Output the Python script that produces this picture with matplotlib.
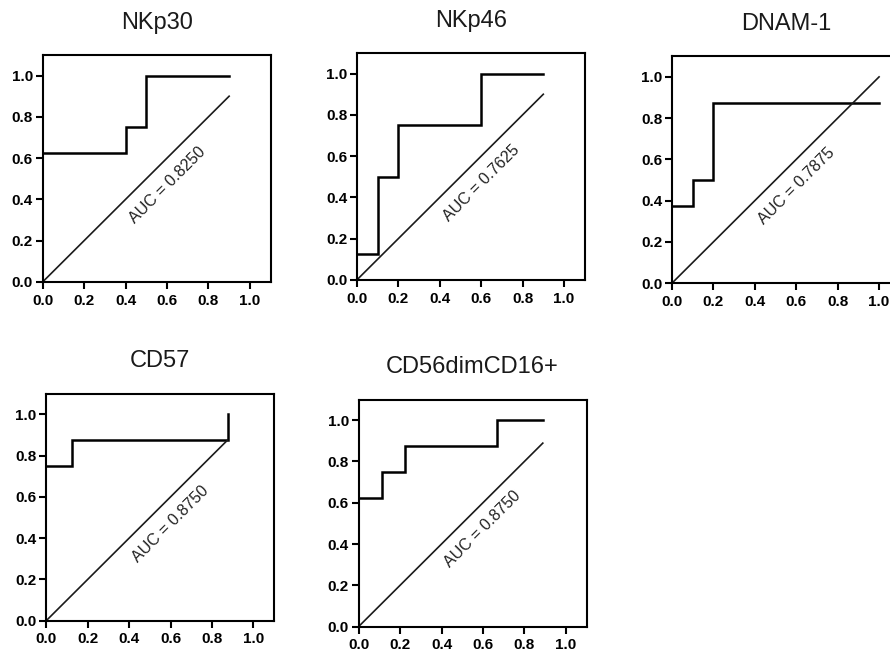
import matplotlib
matplotlib.use("Agg")
import matplotlib.pyplot as plt

plt.rcParams['font.family'] = ['Liberation Sans', 'DejaVu Sans']

# ROC curves (1 - specificity, sensitivity)
titles = ["NKp30", "NKp46", "DNAM-1", "CD57", "CD56dimCD16+"]
auc = ["0.8250", "0.7625", "0.7875", "0.8750", "0.8750"]

nkp30_x = [0.0, 0.4, 0.4, 0.5, 0.5, 0.9]
nkp30_y = [0.625, 0.625, 0.75, 0.75, 1.0, 1.0]

nkp46_x = [0.0, 0.1, 0.1, 0.2, 0.2, 0.6, 0.6, 0.9]
nkp46_y = [0.125, 0.125, 0.5, 0.5, 0.75, 0.75, 1.0, 1.0]

dnam_x = [0.0, 0.1, 0.1, 0.2, 0.2, 1.0]
dnam_y = [0.375, 0.375, 0.5, 0.5, 0.875, 0.875]

cd57_x = [0.0, 0.125, 0.125, 0.875, 0.875]
cd57_y = [0.75, 0.75, 0.875, 0.875, 1.0]

cd56_x = [0.0, 0.111, 0.111, 0.222, 0.222, 0.667, 0.667, 0.889]
cd56_y = [0.625, 0.625, 0.75, 0.75, 0.875, 0.875, 1.0, 1.0]

# end of the reference (diagonal) line
diag_end = [0.9, 0.9, 1.0, 0.875, 0.889]

curves = [(nkp30_x, nkp30_y), (nkp46_x, nkp46_y), (dnam_x, dnam_y),
          (cd57_x, cd57_y), (cd56_x, cd56_y)]

# axes boxes in figure fraction [left, bottom, width, height]
boxes = [[0.048, 0.569, 0.256, 0.347],
         [0.401, 0.572, 0.256, 0.347],
         [0.755, 0.567, 0.256, 0.347],
         [0.052, 0.051, 0.256, 0.347],
         [0.403, 0.042, 0.256, 0.347]]

ticks = [0.0, 0.2, 0.4, 0.6, 0.8, 1.0]

fig = plt.figure(figsize=(8.9, 6.54), dpi=100)

for i in range(5):
    ax = fig.add_axes(boxes[i])
    x, y = curves[i]
    ax.plot(x, y, color="black", lw=1.8, solid_joinstyle="miter", clip_on=False)
    d = diag_end[i]
    ax.plot([0, d], [0, d], color="#1a1a1a", lw=1.2, clip_on=False)
    ax.text(0.6, 0.47, "AUC = " + auc[i], rotation=45, ha="center", va="center",
            fontsize=11.5, color="#222222", rotation_mode="anchor")
    ax.set_xlim(0, 1.1)
    ax.set_ylim(0, 1.1)
    ax.set_xticks(ticks)
    ax.set_yticks(ticks)
    ax.set_xticklabels(["%.1f" % t for t in ticks], fontweight="bold", fontsize=11)
    ax.set_yticklabels(["%.1f" % t for t in ticks], fontweight="bold", fontsize=11)
    ax.tick_params(axis="both", direction="out", length=5, width=1.5)
    ax.tick_params(axis="x", pad=3.5)
    ax.tick_params(axis="y", pad=2)
    for s in ax.spines.values():
        s.set_linewidth(1.5)
    ax.set_title(titles[i], fontsize=17, pad=19, color="#1a1a1a")

plt.savefig("out.png", dpi=100)
